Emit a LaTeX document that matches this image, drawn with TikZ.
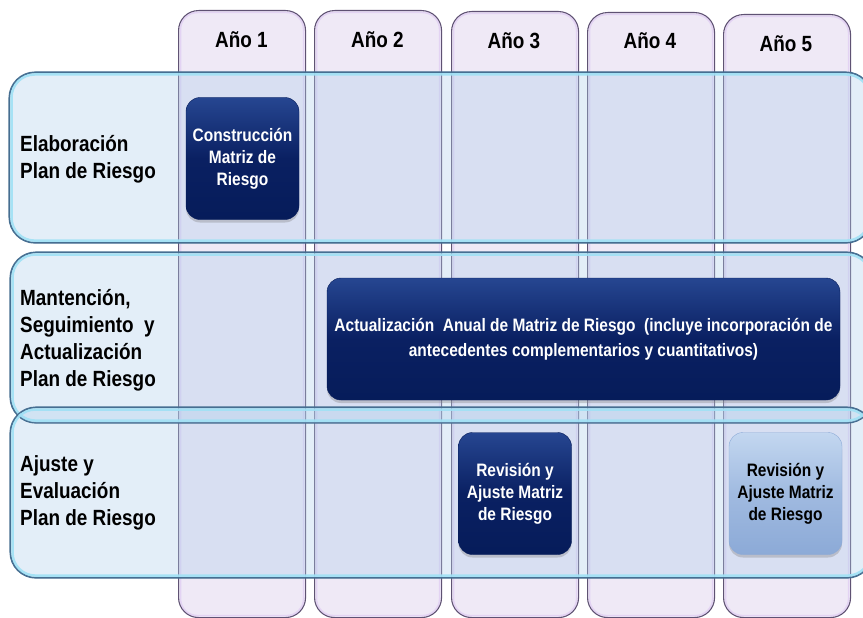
\documentclass[tikz,border=0pt]{standalone}
\usepackage{fontspec}
\setmainfont{Liberation Sans}[FakeStretch=0.86]
\usetikzlibrary{shadows}
\definecolor{colfill}{RGB}{239,233,246}
\definecolor{colline}{RGB}{95,82,115}
\definecolor{colglow}{RGB}{205,170,240}
\definecolor{rowfill}{RGB}{175,206,235}
\definecolor{rowline}{RGB}{70,110,145}
\definecolor{rowglow}{RGB}{160,225,245}
\definecolor{navytop}{RGB}{38,70,145}
\definecolor{navymid}{RGB}{10,32,98}
\definecolor{navybot}{RGB}{6,28,90}
\definecolor{lighttop}{RGB}{195,215,240}
\definecolor{lightmid}{RGB}{160,186,224}
\definecolor{lightbot}{RGB}{140,170,215}
\begin{document}
\begin{tikzpicture}[x=1pt,y=-1pt,
  colbox/.style={draw=colline,line width=1.1pt,fill=colfill,rounded corners=20pt,anchor=north west,inner sep=0pt,minimum width=127pt,minimum height=607pt},
  colglowline/.style={draw=colglow,line width=1.5pt,opacity=0.35,rounded corners=17pt},
  rowbox/.style={draw=rowline,line width=1.1pt,fill=rowfill,fill opacity=0.35,rounded corners=26pt,anchor=north west,inner sep=0pt,minimum width=862pt,minimum height=170pt},
  rowglowline/.style={draw=rowglow,line width=2.5pt,opacity=0.9,rounded corners=23pt},
  rowlabel/.style={anchor=west,align=left,font=\bfseries\fontsize{22}{27}\selectfont,inner sep=0pt},
  header/.style={anchor=base,font=\bfseries\fontsize{22}{26}\selectfont,inner sep=0pt},
  darkbox/.style={rounded corners=14pt,top color=navytop,bottom color=navybot,middle color=navymid,draw=navybot,text=white,align=center,font=\bfseries\fontsize{18}{22}\selectfont,drop shadow={shadow xshift=0pt,shadow yshift=-3pt,opacity=0.35},inner sep=0pt,minimum width=113pt,minimum height=122pt},
  lightbox/.style={darkbox,top color=lighttop,bottom color=lightbot,middle color=lightmid,draw=lightbot,text=black}
]
\useasboundingbox (0,0) rectangle (863,618);
% columns
\node[colbox] (c1) at (178,10) {};
\node[colbox,minimum height=607pt] (c2) at (314,10) {};
\node[colbox,minimum height=606pt] (c3) at (451,11) {};
\node[colbox,minimum height=605pt] (c4) at (587,12) {};
\node[colbox,minimum height=603pt] (c5) at (723,14) {};
\foreach \c in {c1,c2,c3,c4,c5}{
  \draw[colglowline] ([shift={(2.5,2.5)}]\c.north west) rectangle ([shift={(-2.5,-2.5)}]\c.south east);
}
% rows
\node[rowbox] (r1) at (9,72) {};
\node[rowbox] (r2) at (10,252) {};
\node[rowbox] (r3) at (10,407) {};
\foreach \r in {r1,r2,r3}{
  \draw[rowglowline] ([shift={(2.5,2.5)}]\r.north west) rectangle ([shift={(-2.5,-2.5)}]\r.south east);
  \draw[rowline,line width=1.1pt,rounded corners=26pt] (\r.north west) rectangle (\r.south east);
}
% headers
\node[header] (h1) at (241.5,48) {Año 1};
\node[header] (h2) at (377.5,48) {Año 2};
\node[header] (h3) at (514,49) {Año 3};
\node[header] (h4) at (650,49) {Año 4};
\node[header] (h5) at (786,52) {Año 5};
% row labels
\node[rowlabel] (l1) at (20,159) {Elaboración\\Plan de Riesgo};
\node[rowlabel] (l2) at (20,340) {Mantención,\\Seguimiento\ \ y\\Actualización\\Plan de Riesgo};
\node[rowlabel] (l3) at (20,493) {Ajuste y\\Evaluación\\Plan de Riesgo};
% boxes
\node[darkbox] (b1) at (242.5,158.5) {Construcción\\Matriz de\\Riesgo};
\node[darkbox,minimum width=513pt,font=\bfseries\fontsize{18}{25}\selectfont] (b2) at (583.5,339) {Actualización\ \ Anual de Matriz de Riesgo\ \ (incluye incorporación de\\antecedentes complementarios y cuantitativos)};
\node[darkbox] (b3) at (515,493.5) {Revisión y\\Ajuste Matriz\\de Riesgo};
\node[lightbox] (b4) at (785.5,493.5) {Revisión y\\Ajuste Matriz\\de Riesgo};
\end{tikzpicture}
\end{document}
